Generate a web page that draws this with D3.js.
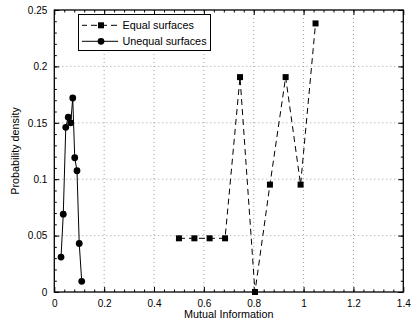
<!DOCTYPE html>
<html><head><meta charset="utf-8">
<script src="https://cdn.jsdelivr.net/npm/d3@7/dist/d3.min.js"></script>
<style>body{margin:0;background:#fff}svg{display:block}text{font-family:"Liberation Sans",Arial,sans-serif}</style>
</head><body><svg id="c" width="420" height="324"></svg>
<script>
const equalX = [0.500, 0.562, 0.623, 0.685, 0.745, 0.805, 0.865, 0.928, 0.988, 1.048];
const equalY = [0.0476, 0.0476, 0.0476, 0.0476, 0.1905, 0.0, 0.0952, 0.1905, 0.0952, 0.2381];
const unequalX = [0.027, 0.036, 0.046, 0.056, 0.066, 0.074, 0.082, 0.091, 0.100, 0.110];
const unequalY = [0.031, 0.069, 0.146, 0.155, 0.150, 0.172, 0.119, 0.1075, 0.043, 0.0095];
const xTicks = [0, 0.2, 0.4, 0.6, 0.8, 1, 1.2, 1.4];
const yTicks = [0, 0.05, 0.1, 0.15, 0.2, 0.25];
const seriesNames = ["Equal surfaces", "Unequal surfaces"];

const L = 54.3, R = 403.3, T = 10, B = 292;
const svg = d3.select("#c");
const x = d3.scaleLinear().domain([0, 1.4]).range([L, R]);
const y = d3.scaleLinear().domain([0, 0.25]).range([B, T]);

// grid
const g = svg.append("g");
g.selectAll(".gx").data(xTicks.slice(1, -1)).join("line")
  .attr("x1", d => x(d)).attr("x2", d => x(d)).attr("y1", T).attr("y2", B)
  .attr("stroke", "#888").attr("stroke-width", 0.8).attr("stroke-dasharray", "1,3");
g.selectAll(".gy").data(yTicks.slice(1, -1)).join("line")
  .attr("x1", L).attr("x2", R).attr("y1", d => y(d)).attr("y2", d => y(d))
  .attr("stroke", "#888").attr("stroke-width", 0.8).attr("stroke-dasharray", "1,3");

// axes with inward ticks
const xMinor = d3.range(0, 1.4001, 0.04).filter(v => v > 0 && v < 1.4);
const yMinor = d3.range(0, 0.25001, 0.01).filter(v => v > 0 && v < 0.25);
const axB = d3.axisBottom(x).tickValues(xTicks).tickFormat(d3.format("~g")).tickSizeInner(-5).tickSizeOuter(0).tickPadding(8);
const axL = d3.axisLeft(y).tickValues(yTicks).tickFormat(d3.format("~g")).tickSizeInner(-5).tickSizeOuter(0).tickPadding(7);
const axT = d3.axisTop(x).tickValues(xTicks).tickFormat("").tickSizeInner(-5).tickSizeOuter(0);
const axR = d3.axisRight(y).tickValues(yTicks).tickFormat("").tickSizeInner(-5).tickSizeOuter(0);
function styl(sel){ sel.select(".domain").remove(); sel.selectAll("line").attr("stroke","#000"); sel.selectAll("text").attr("font-size",10).attr("fill","#000").attr("font-family","'Liberation Sans',Arial,sans-serif"); }
svg.append("g").attr("transform", `translate(0,${B})`).call(axB).call(styl);
svg.append("g").attr("transform", `translate(${L},0)`).call(axL).call(styl);
svg.append("g").attr("transform", `translate(0,${T})`).call(axT).call(styl);
svg.append("g").attr("transform", `translate(${R},0)`).call(axR).call(styl);
svg.append("g").attr("transform", `translate(0,${B})`).call(d3.axisBottom(x).tickValues(xMinor).tickFormat("").tickSizeInner(-2.5).tickSizeOuter(0)).call(styl);
svg.append("g").attr("transform", `translate(0,${T})`).call(d3.axisTop(x).tickValues(xMinor).tickFormat("").tickSizeInner(-2.5).tickSizeOuter(0)).call(styl);
svg.append("g").attr("transform", `translate(${L},0)`).call(d3.axisLeft(y).tickValues(yMinor).tickFormat("").tickSizeInner(-2.5).tickSizeOuter(0)).call(styl);
svg.append("g").attr("transform", `translate(${R},0)`).call(d3.axisRight(y).tickValues(yMinor).tickFormat("").tickSizeInner(-2.5).tickSizeOuter(0)).call(styl);

svg.append("rect").attr("x", L).attr("y", T).attr("width", R - L).attr("height", B - T)
  .attr("fill", "none").attr("stroke", "#000").attr("stroke-width", 1.3);

// series
const line = d3.line().x(d => x(d[0])).y(d => y(d[1]));
const eq = equalX.map((v, i) => [v, equalY[i]]);
const uq = unequalX.map((v, i) => [v, unequalY[i]]);
svg.append("path").datum(eq).attr("d", line).attr("fill", "none").attr("stroke", "#000").attr("stroke-width", 1).attr("stroke-dasharray", "6,4");
svg.append("path").datum(uq).attr("d", line).attr("fill", "none").attr("stroke", "#000").attr("stroke-width", 1);
svg.selectAll(".sq").data(eq).join("rect").attr("x", d => x(d[0]) - 3).attr("y", d => y(d[1]) - 3).attr("width", 6).attr("height", 6).attr("fill", "#000");
svg.selectAll(".ci").data(uq).join("circle").attr("cx", d => x(d[0])).attr("cy", d => y(d[1])).attr("r", 3.4).attr("fill", "#000");

// legend
const lg = svg.append("g");
lg.append("rect").attr("x", 78.5).attr("y", 14.5).attr("width", 132).attr("height", 36).attr("fill", "#fff").attr("stroke", "#000").attr("stroke-width", 1);
lg.append("line").attr("x1", 82).attr("x2", 118).attr("y1", 25.3).attr("y2", 25.3).attr("stroke", "#000").attr("stroke-dasharray", "6,4").attr("stroke-dashoffset", 1);
lg.append("rect").attr("x", 98).attr("y", 22.3).attr("width", 6).attr("height", 6).attr("fill", "#000");
lg.append("line").attr("x1", 82).attr("x2", 118).attr("y1", 41.3).attr("y2", 41.3).attr("stroke", "#000");
lg.append("circle").attr("cx", 101).attr("cy", 41.3).attr("r", 3.4).attr("fill", "#000");
lg.append("text").attr("x", 122.5).attr("y", 29.2).attr("font-size", 10.8).text(seriesNames[0]);
lg.append("text").attr("x", 122.5).attr("y", 45.2).attr("font-size", 10.8).text(seriesNames[1]);

// axis labels
svg.append("text").attr("x", (L + R) / 2).attr("y", 318).attr("text-anchor", "middle").attr("font-size", 10.8).text("Mutual Information");
svg.append("text").attr("transform", `translate(19,${(T + B) / 2}) rotate(-90)`).attr("text-anchor", "middle").attr("font-size", 10.8).text("Probability density");
</script></body></html>
